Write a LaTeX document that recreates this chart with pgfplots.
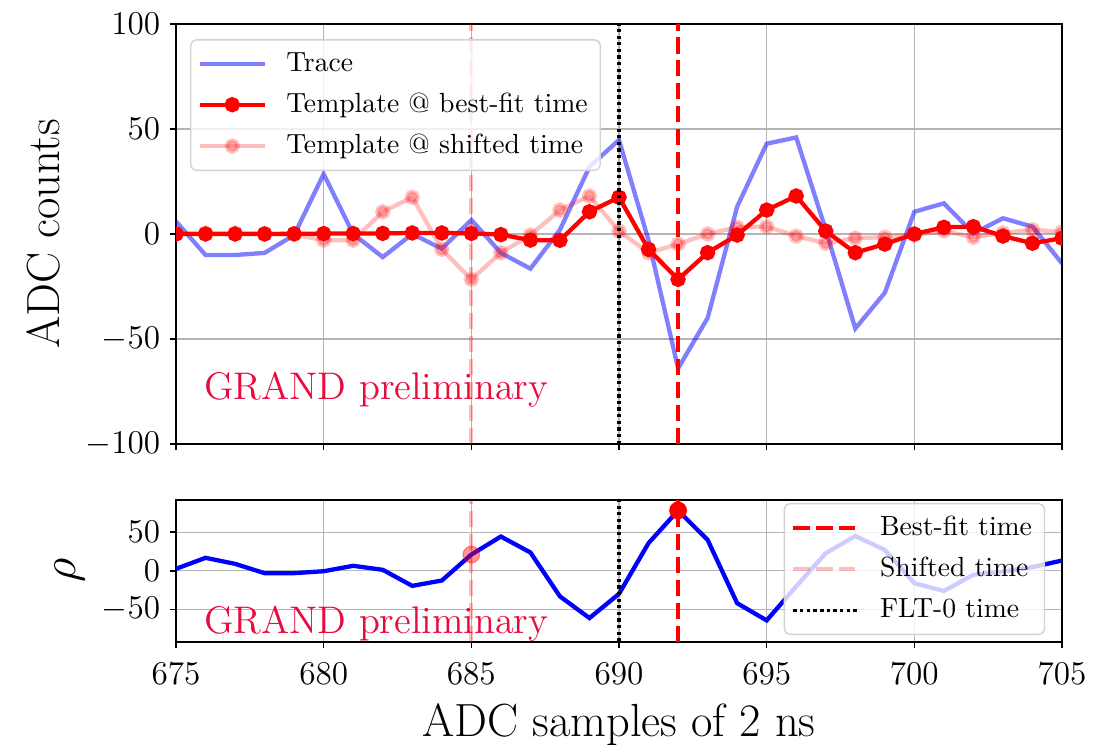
\documentclass[border=0pt]{standalone}
\usepackage{pgfplots}
\usepackage{pgfplotstable}
\pgfplotsset{compat=1.18}
\usetikzlibrary{calc}
\definecolor{gridgray}{RGB}{180,180,180}
\definecolor{grand}{RGB}{232,12,62}
\definecolor{legframe}{RGB}{210,210,210}

\pgfplotstableread{
x    trace  best   shifted  rho
675   6     0      0.3      2.6
676  -10    0      0.5     16.8
677  -10    0      0.5      9
678  -9     0      0.3     -3
679  -0.5   0.1   -0.3     -3
680  28.6   0.2   -2.9     -0.5
681   0     0.2   -3        6.5
682  -11    0.3   10.6      1.3
683   0     0.5   17.5    -19.4
684  -7     0.5   -7.3    -12.5
685   6.7   0.3  -21.6     21
686  -9    -0.3   -8.9     44.3
687  -16.5 -2.9   -0.5     23.7
688   2    -3     11.4    -33
689  32    10.6   18.1    -61
690  44.8  17.5    1.4    -29.7
691  -3    -7.3   -8.9     35.8
692  -64  -21.6   -4.8     78
693  -40   -8.9    0       40
694  13    -0.5    3.2    -41.8
695  43    11.4    3.5    -64
696  46    18.1   -1      -20
697   2     1.4   -4.4     22.8
698  -45   -8.9   -2       45
699  -28   -4.8   -1.5     27
700  10.6   0     -0.5    -16
701  14.6   3.2    1.5    -26
702   0.3   3.5   -1.5     -5
703   7.5  -1      0.5     -1
704   3.5  -4.4    2        4.8
705  -14   -2      1       13.3
}\data

\pgfplotsset{
  mystyle/.style={
    scale only axis, width=320.15pt,
    xmin=675, xmax=705,
    xtick={675,680,...,705},
    tick pos=left,
    tick align=outside,
    major tick length=2.2pt,
    grid=major,
    grid style={gridgray, line width=0.45pt},
    axis line style={line width=0.6pt},
    every tick/.style={black, line width=0.5pt},
    ticklabel style={font=\fontsize{12.6}{15}\selectfont},
    xticklabel style={yshift=-2pt},
    label style={font=\fontsize{16.8}{20}\selectfont},
    clip marker paths=true,
    legend cell align=left,
    legend style={draw=legframe, line width=0.5pt, rounded corners=2pt, fill=white, fill opacity=0.8, text opacity=1, draw opacity=1, font=\fontsize{10}{12}\selectfont, inner sep=2.5pt, column sep=5pt, row sep=2.4pt},
    legend image code/.code={\draw[mark repeat=2,mark phase=2,##1] plot coordinates {(0pt,0pt) (11.75pt,0pt) (23.5pt,0pt)};},
  },
}

\begin{document}
\begin{tikzpicture}
\begin{axis}[mystyle, name=top,
  height=151.76pt,
  ymin=-100, ymax=100, ytick={-100,-50,0,50,100},
  xticklabels={},
  ylabel={ADC counts},
  ylabel style={at={(rel axis cs:-0.131,0.5)}, anchor=base, inner sep=0pt},
  legend style={at={(rel axis cs:0.0158,0.964)}, anchor=north west},
]
\addplot[blue, draw opacity=0.5, line width=1.55pt, no markers] table[x=x,y=trace]{\data};
\addlegendentry{Trace}
\addplot[red, line width=1.55pt, mark=*, mark size=2pt, fill opacity=1, mark options={solid}] table[x=x,y=best]{\data};
\addlegendentry{Template @ best-fit time}
\addplot[red, opacity=0.25, line width=1.55pt, mark=*, mark size=2pt] table[x=x,y=shifted]{\data};
\addlegendentry{Template @ shifted time}
\addplot[red, opacity=0.25, line width=1.4pt, dash pattern=on 5.8pt off 2.5pt, forget plot] coordinates {(685,-100) (685,100)};
\addplot[black, line width=1.3pt, dash pattern=on 1.2pt off 1.2pt, forget plot] coordinates {(690,-100) (690,100)};
\addplot[red, line width=1.6pt, dash pattern=on 5.8pt off 2.5pt, forget plot] coordinates {(692,-100) (692,100)};
\node[anchor=base west, text=grand, font=\fontsize{13.9}{16}\selectfont, inner sep=0pt] at (rel axis cs:0.031,0.105) {GRAND preliminary};
\end{axis}

\begin{axis}[mystyle,
  at={($(top.south west)+(0,-20.23pt)$)}, anchor=north west,
  height=51.2pt,
  ymin=-91.5, ymax=91.5, ytick={-50,0,50},
  xlabel={ADC samples of 2 ns},
  xlabel style={at={(rel axis cs:0.5,0)}, anchor=base, yshift=-34.3pt, inner sep=0pt},
  ylabel={$\rho$},
  ylabel style={at={(rel axis cs:-0.1133,0.5)}, anchor=base, inner sep=0pt},
  legend style={at={(rel axis cs:0.981,0.979)}, anchor=north east},
]
\addplot[blue, line width=1.55pt, no markers, forget plot] table[x=x,y=rho]{\data};
\addplot[red, only marks, mark=*, mark size=3pt, forget plot] coordinates {(692,78)};
\addplot[red, opacity=0.4, only marks, mark=*, mark size=3pt, forget plot] coordinates {(685,21)};
\addplot[red, line width=1.6pt, dash pattern=on 5.8pt off 2.5pt] coordinates {(692,-91.5) (692,91.5)};
\addlegendentry{Best-fit time}
\addplot[red, opacity=0.25, line width=1.4pt, dash pattern=on 5.8pt off 2.5pt] coordinates {(685,-91.5) (685,91.5)};
\addlegendentry{Shifted time}
\addplot[black, line width=1.3pt, dash pattern=on 1.2pt off 1.2pt] coordinates {(690,-91.5) (690,91.5)};
\addlegendentry{FLT-0 time}
\node[anchor=base west, text=grand, font=\fontsize{13.9}{16}\selectfont, inner sep=0pt] at (rel axis cs:0.031,0.061) {GRAND preliminary};
\end{axis}
\pgfresetboundingbox
\path[use as bounding box] ($(top.south west)+(-63.6pt,-108.76pt)$) rectangle ++(400pt,269.2pt);
\end{tikzpicture}
\end{document}
